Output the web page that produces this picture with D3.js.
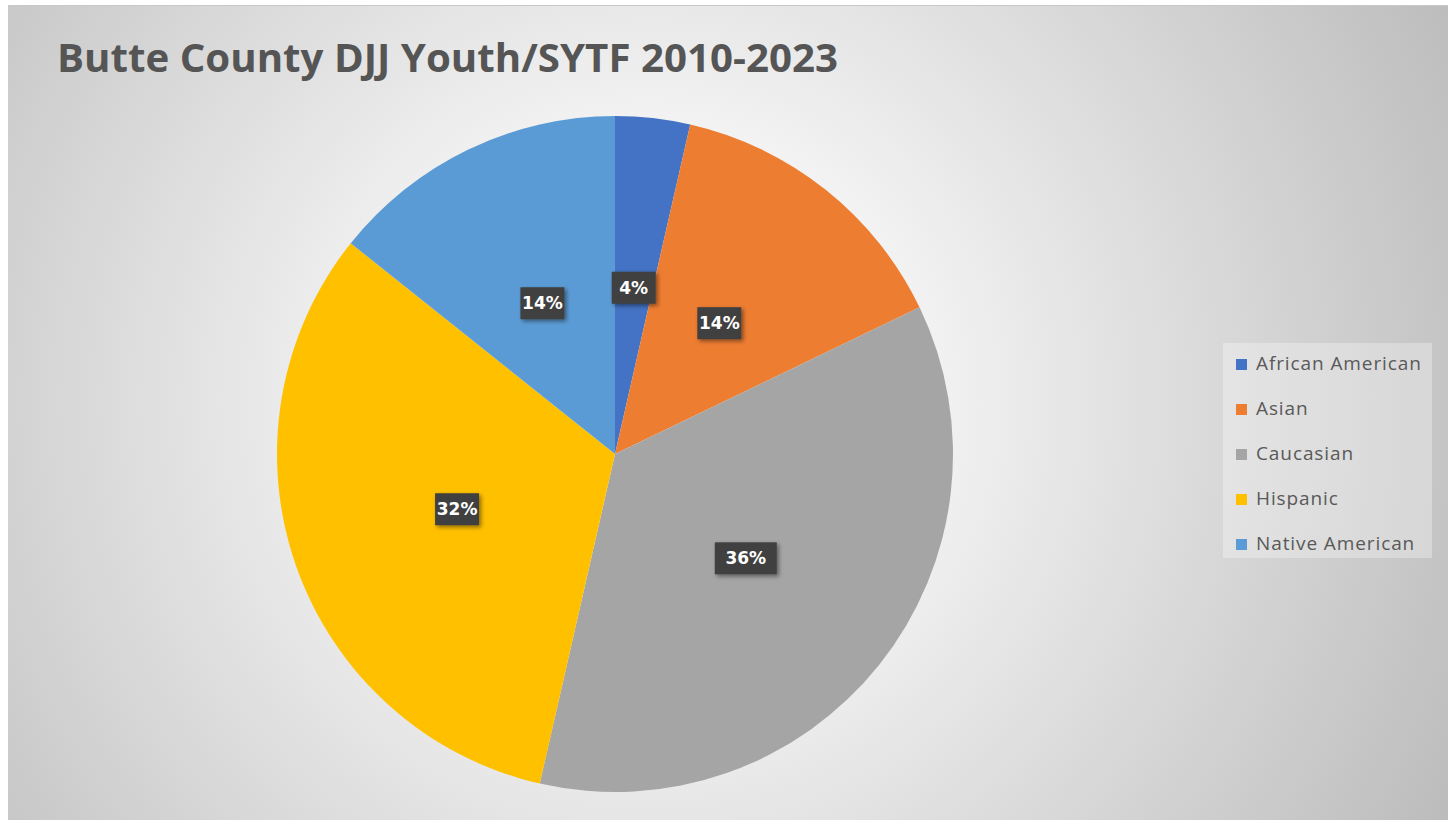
<!DOCTYPE html>
<html>
<head>
<meta charset="utf-8">
<script src="https://cdn.jsdelivr.net/npm/d3@7"></script>
<style>
  body { margin: 0; background: #fff; }
  svg { display: block; }
</style>
</head>
<body>
<div id="chart"></div>
<script>
// counts (shown as % of total)
const categories = ["African American", "Asian", "Caucasian", "Hispanic", "Native American"];
const values = [1, 4, 10, 9, 4];
const colors = ["#4472C4", "#ED7D31", "#A5A5A5", "#FFC000", "#5B9BD5"];
const title = "Butte County DJJ Youth/SYTF 2010-2023";

const width = 1452, height = 820;
const cx = 615, cy = 454, radius = 338;

const svg = d3.select("#chart").append("svg")
    .attr("width", width)
    .attr("height", height);

const defs = svg.append("defs");

const bg = defs.append("radialGradient")
    .attr("id", "bg")
    .attr("gradientUnits", "userSpaceOnUse")
    .attr("cx", 650).attr("cy", 400).attr("r", 900);
bg.append("stop").attr("offset", "0%").attr("stop-color", "#ffffff");
bg.append("stop").attr("offset", "25%").attr("stop-color", "#f7f7f7");
bg.append("stop").attr("offset", "100%").attr("stop-color", "#bcbcbc");

const shadow = defs.append("filter").attr("id", "shadow")
    .attr("x", "-30%").attr("y", "-30%").attr("width", "160%").attr("height", "160%");
shadow.append("feDropShadow")
    .attr("dx", 2).attr("dy", 2).attr("stdDeviation", 2)
    .attr("flood-color", "#000").attr("flood-opacity", 0.45);

// chart area
svg.append("rect")
    .attr("x", 8).attr("y", 5)
    .attr("width", 1440).attr("height", 815)
    .attr("fill", "url(#bg)");
svg.append("line")
    .attr("x1", 8).attr("x2", 1448).attr("y1", 5.5).attr("y2", 5.5)
    .attr("stroke", "#c8c8c8");

svg.append("text")
    .attr("x", 57).attr("y", 72)
    .attr("font-family", "'Open Sans', 'Noto Sans', sans-serif")
    .attr("font-weight", "bold")
    .attr("font-size", 40)
    .attr("fill", "#555")
    .attr("textLength", 781)
    .attr("lengthAdjust", "spacingAndGlyphs")
    .text(title);

const total = d3.sum(values);
const data = categories.map((c, i) => ({ name: c, value: values[i], color: colors[i] }));

const pie = d3.pie().sort(null).value(d => d.value);
const arc = d3.arc().innerRadius(0).outerRadius(radius);
const labelArc = d3.arc().innerRadius(radius * 0.495).outerRadius(radius * 0.495);

const g = svg.append("g").attr("transform", `translate(${cx},${cy})`);
const arcs = pie(data);

g.selectAll("path.slice")
    .data(arcs)
    .join("path")
    .attr("class", "slice")
    .attr("d", arc)
    .attr("fill", d => d.data.color);

const labels = g.selectAll("g.label")
    .data(arcs)
    .join("g")
    .attr("class", "label")
    .attr("transform", d => `translate(${labelArc.centroid(d)})`);

labels.append("rect")
    .attr("x", d => d.data.value >= 10 ? -31 : -22)
    .attr("y", -16)
    .attr("width", d => d.data.value >= 10 ? 62 : 44)
    .attr("height", 32)
    .attr("fill", "#404040")
    .attr("filter", "url(#shadow)");

labels.append("text")
    .attr("text-anchor", "middle")
    .attr("dy", "0.36em")
    .attr("font-family", "'DejaVu Sans', sans-serif")
    .attr("font-weight", "bold")
    .attr("font-size", 17)
    .attr("fill", "#fff")
    .text(d => Math.round(d.data.value / total * 100) + "%");

// legend
const legend = svg.append("g");
legend.append("rect")
    .attr("x", 1223).attr("y", 343)
    .attr("width", 209).attr("height", 215)
    .attr("fill", "#ffffff").attr("fill-opacity", 0.3);

const items = legend.selectAll("g.item")
    .data(data)
    .join("g")
    .attr("class", "item")
    .attr("transform", (d, i) => `translate(1236, ${364 + i * 45})`);

items.append("rect")
    .attr("x", 0).attr("y", -5)
    .attr("width", 11).attr("height", 11)
    .attr("fill", d => d.color);

items.append("text")
    .attr("x", 20).attr("y", 6)
    .attr("font-family", "'Open Sans', sans-serif")
    .attr("font-size", 19)
    .attr("letter-spacing", 0.9)
    .attr("fill", "#595959")
    .text(d => d.name);
</script>
</body>
</html>
